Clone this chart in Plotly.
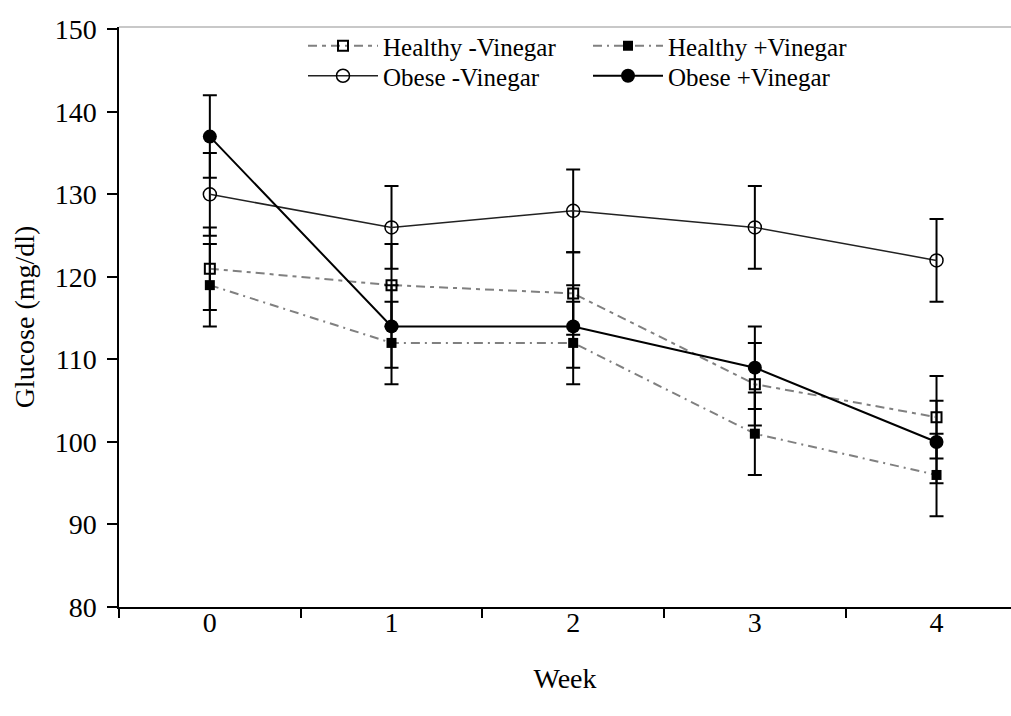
import plotly.graph_objects as go

weeks = [0, 1, 2, 3, 4]
week_labels = ["0", "1", "2", "3", "4"]
healthy_minus = [121, 119, 118, 107, 103]
healthy_plus = [119, 112, 112, 101, 96]
obese_minus = [130, 126, 128, 126, 122]
obese_plus = [137, 114, 114, 109, 100]
err_healthy_minus = [5, 5, 5, 5, 5]
err_healthy_plus = [5, 5, 5, 5, 5]
err_obese_minus = [5, 5, 5, 5, 5]
err_obese_plus = [5, 5, 5, 5, 5]

FONT = "Liberation Serif"
FS = 28
LFS = 25
fig = go.Figure()

def eb(vals):
    return dict(type="data", array=vals, visible=True, color="black", thickness=2, width=7)

fig.add_trace(go.Scatter(
    x=weeks, y=healthy_minus, name="Healthy -Vinegar", mode="lines+markers",
    line=dict(color="#808080", width=2, dash="9px,5px,4px,5px"),
    marker=dict(symbol="square-open", size=10, color="black", line=dict(width=2, color="black")),
    error_y=eb(err_healthy_minus), legend="legend"))
fig.add_trace(go.Scatter(
    x=weeks, y=healthy_plus, name="Healthy +Vinegar", mode="lines+markers",
    line=dict(color="#808080", width=2, dash="9px,5px,2px,5px"),
    marker=dict(symbol="square", size=10, color="black"),
    error_y=eb(err_healthy_plus), legend="legend"))
fig.add_trace(go.Scatter(
    x=weeks, y=obese_minus, name="Obese -Vinegar", mode="lines+markers",
    line=dict(color="#222222", width=1.5),
    marker=dict(symbol="circle-open", size=13, color="black", line=dict(width=1.5, color="black")),
    error_y=eb(err_obese_minus), legend="legend2"))
fig.add_trace(go.Scatter(
    x=weeks, y=obese_plus, name="Obese +Vinegar", mode="lines+markers",
    line=dict(color="black", width=2),
    marker=dict(symbol="circle", size=14, color="black"),
    error_y=eb(err_obese_plus), legend="legend2"))

leg_common = dict(orientation="h", xref="paper", yref="paper", xanchor="left", yanchor="middle",
                  bgcolor="rgba(0,0,0,0)", font=dict(family=FONT, size=LFS, color="black"),
                  entrywidth=200, entrywidthmode="pixels", tracegroupgap=0, itemwidth=70)

fig.update_layout(
    width=1011, height=716,
    margin=dict(l=119, r=0, t=27, b=109),
    paper_bgcolor="white", plot_bgcolor="white",
    font=dict(family=FONT, size=FS, color="black"),
    showlegend=True,
    legend=dict(x=(303 - 119) / 892, y=1 - (46 - 27) / 580, **leg_common),
    legend2=dict(x=(303 - 119) / 892, y=1 - (76 - 27) / 580, **leg_common),
    xaxis=dict(range=[-0.5, 4.41], tickmode="array", tickvals=weeks, ticktext=week_labels,
               ticks="", showgrid=False, zeroline=False, showline=True, linecolor="black", linewidth=1.5,
               minor=dict(tick0=-0.5, dtick=1, ticks="outside", ticklen=9, tickcolor="black", tickwidth=1.5,
                          showgrid=False),
               tickfont=dict(family=FONT, size=FS), ticklabelstandoff=-10,
               title=dict(text="Week", font=dict(family=FONT, size=FS), standoff=31)),
    yaxis=dict(range=[80, 150.28], tickmode="array", tickvals=[80, 90, 100, 110, 120, 130, 140, 150],
               ticks="outside", ticklen=10, tickwidth=1.5, tickcolor="black",
               showgrid=False, zeroline=False, showline=True, linecolor="black", linewidth=1.5,
               tickfont=dict(family=FONT, size=FS), ticklabelstandoff=5,
               title=dict(text="Glucose (mg/dl)", font=dict(family=FONT, size=FS), standoff=12)),
)

fig.add_shape(type="line", xref="paper", yref="paper", x0=0, x1=1, y0=1, y1=1,
              line=dict(color="#c8c8c8", width=2))

fig.write_html("out.html", config={"displayModeBar": False},
               post_script="document.body.style.margin='0';document.body.style.overflow='hidden';")
